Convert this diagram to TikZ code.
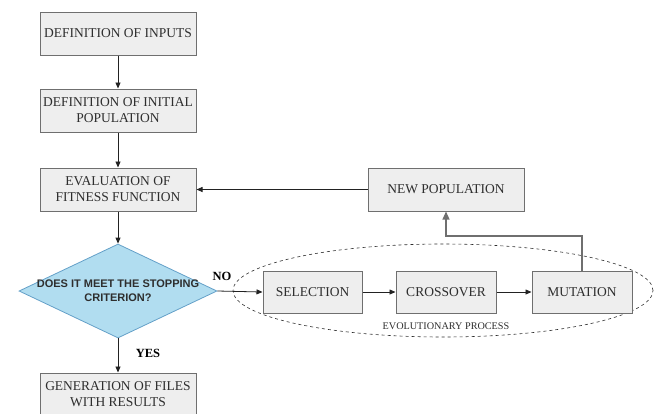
\documentclass[tikz,border=0pt]{standalone}
\usepackage{fontspec}
\setmainfont{Liberation Serif}
\newfontfamily\arialf{Liberation Sans}
\usetikzlibrary{shapes.geometric,arrows.meta}
\definecolor{boxfill}{HTML}{EEEEEE}
\definecolor{boxdraw}{HTML}{6F6F6F}
\definecolor{txt}{HTML}{2E2E2E}
\definecolor{diafill}{RGB}{177,221,240}
\definecolor{diadraw}{RGB}{100,160,200}
\definecolor{arr}{HTML}{222222}
\tikzset{
  box/.style={draw=boxdraw, fill=boxfill, line width=1pt, minimum width=156pt, minimum height=43pt,
    inner sep=0pt, align=center, text=txt, font=\rmfamily\fontsize{13.5}{16}\selectfont},
  sbox/.style={box, minimum width=100pt, minimum height=42pt},
  conn/.style={draw=arr, line width=0.8pt, -{Triangle[length=6pt,width=5pt]}},
  lbl/.style={font=\rmfamily\bfseries\fontsize{12.5}{14}\selectfont, text=black, inner sep=0pt},
}
\begin{document}
\begin{tikzpicture}[x=1pt,y=-1pt]
\useasboundingbox (0,0) rectangle (660,413);
\node[box] (b1) at (118,33.5) {DEFINITION OF INPUTS};
\node[box] (b2) at (118,110.5) {DEFINITION OF INITIAL\\POPULATION};
\node[box] (b3) at (118,189.5) {EVALUATION OF\\FITNESS FUNCTION};
\node[diamond, draw=diadraw, fill=diafill, line width=0.8pt, minimum width=198pt, minimum height=94pt, inner sep=0pt,
  label={[align=center, text=txt, font=\arialf\bfseries\fontsize{11}{14}\selectfont]center:DOES IT MEET THE STOPPING\\CRITERION?}] (dia) at (118,291) {};
\node[box] (fin) at (118,394.5) {GENERATION OF FILES\\WITH RESULTS};
\node[box] (np) at (446,189.5) {NEW POPULATION};
\node[ellipse, draw=txt, dashed, line width=0.6pt, minimum width=420pt, minimum height=93pt, inner sep=0pt] (ev) at (443,290.5) {};
\node[sbox, minimum width=99pt] (sel) at (312.5,292) {SELECTION};
\node[sbox] (cro) at (446,292) {CROSSOVER};
\node[sbox] (mut) at (582,292) {MUTATION};
\node[text=txt, font=\rmfamily\fontsize{10.2}{12}\selectfont, inner sep=0pt] (evl) at (446,326) {EVOLUTIONARY PROCESS};
\node[lbl] (no) at (222,276) {NO};
\node[lbl] (yes) at (148,353) {YES};
\coordinate (turn) at (582,236);
\draw[conn] (b1) -- (b2);
\draw[conn] (b2) -- (b3);
\draw[conn] (b3) -- (dia);
\draw[conn] (dia) -- (fin);
\draw[conn] (dia.east) -- (sel.west);
\draw[conn] (sel) -- (cro);
\draw[conn] (cro) -- (mut);
\draw[draw=boxdraw, line width=1.1pt, -{Triangle[length=8pt,width=7pt]}] (mut.north) -- (turn) -| (np.south);
\draw[conn] (np.west) -- (b3.east);
\end{tikzpicture}
\end{document}
